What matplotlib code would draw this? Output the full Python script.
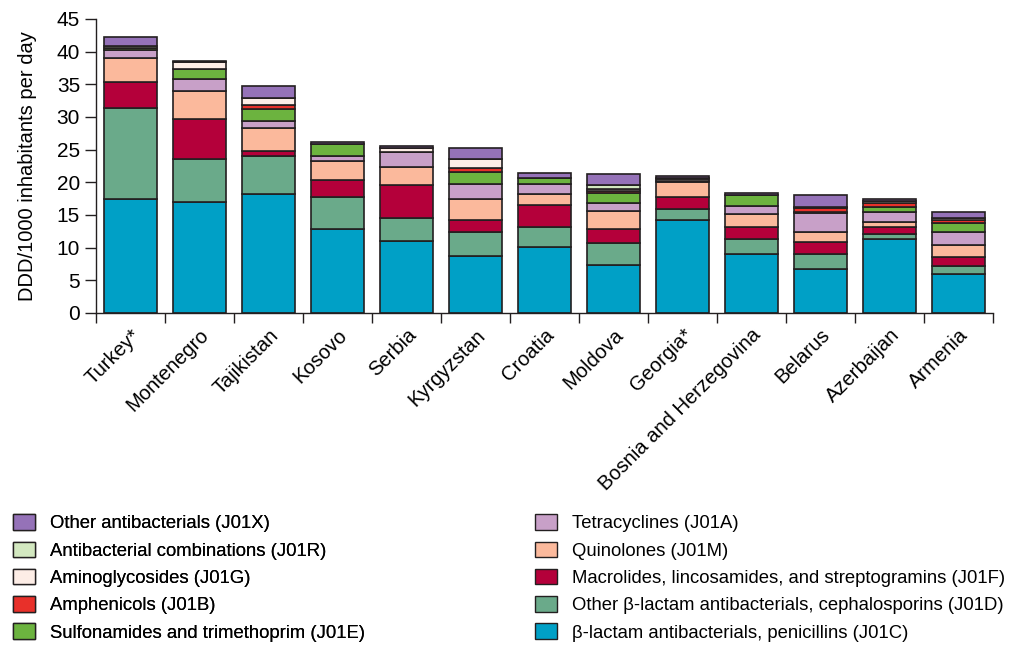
import numpy as np
import matplotlib
matplotlib.use('Agg')
import matplotlib.pyplot as plt
from matplotlib.patches import Patch

plt.rcParams['font.family'] = ['Liberation Sans', 'DejaVu Sans']

countries = ['Turkey*', 'Montenegro', 'Tajikistan', 'Kosovo', 'Serbia', 'Kyrgyzstan',
             'Croatia', 'Moldova', 'Georgia*', 'Bosnia and Herzegovina', 'Belarus',
             'Azerbaijan', 'Armenia']

# values, bottom of stack first
J01C = [17.4, 17.0, 18.2, 12.8, 11.0, 8.7, 10.1, 7.4, 14.2, 9.1, 6.8, 11.3, 5.9]
J01D = [14.0, 6.5, 5.8, 4.9, 3.6, 3.7, 3.1, 3.3, 1.7, 2.3, 2.3, 0.8, 1.3]
J01F = [4.0, 6.2, 0.8, 2.7, 5.0, 1.9, 3.3, 2.2, 1.9, 1.7, 1.7, 1.1, 1.3]
J01M = [3.6, 4.3, 3.5, 2.9, 2.7, 3.2, 1.7, 2.7, 2.2, 2.1, 1.6, 0.8, 1.9]
J01A = [1.3, 1.8, 1.1, 0.7, 2.3, 2.3, 1.5, 1.3, 0.2, 1.2, 2.9, 1.4, 2.0]
J01E = [0.3, 1.6, 1.9, 1.8, 0.0, 1.8, 0.9, 1.5, 0.0, 1.6, 0.2, 0.8, 1.4]
J01B = [0.0, 0.0, 0.6, 0.0, 0.0, 0.6, 0.0, 0.3, 0.0, 0.0, 0.5, 0.6, 0.5]
J01G = [0.0, 1.0, 1.0, 0.0, 0.6, 1.4, 0.0, 0.3, 0.3, 0.0, 0.2, 0.3, 0.2]
J01R = [0.2, 0.0, 0.0, 0.0, 0.0, 0.0, 0.0, 0.6, 0.2, 0.0, 0.0, 0.0, 0.0]
J01X = [1.4, 0.2, 1.9, 0.4, 0.4, 1.6, 0.8, 1.6, 0.3, 0.4, 1.8, 0.3, 0.9]

labels = ['\u03b2-lactam antibacterials, penicillins (J01C)',
          'Other \u03b2-lactam antibacterials, cephalosporins (J01D)',
          'Macrolides, lincosamides, and streptogramins (J01F)',
          'Quinolones (J01M)',
          'Tetracyclines (J01A)',
          'Sulfonamides and trimethoprim (J01E)',
          'Amphenicols (J01B)',
          'Aminoglycosides (J01G)',
          'Antibacterial combinations (J01R)',
          'Other antibacterials (J01X)']
series = [J01C, J01D, J01F, J01M, J01A, J01E, J01B, J01G, J01R, J01X]
colors = ['#00A0C6', '#6AAA8A', '#B4003A', '#FBB99C', '#C8A0C8',
          '#6CB33F', '#E8302A', '#FDEDE6', '#D3E8C0', '#9572B8']
edge = '#231F20'

fig = plt.figure(figsize=(10.1, 6.49), dpi=100)
ax = fig.add_axes([96/1010, 1-313/649, 897/1010, 294/649])

x = np.arange(len(countries))
bottom = np.zeros(len(countries))
for vals, c in zip(series, colors):
    v = np.array(vals)
    ax.bar(x, v, bottom=bottom, width=0.77, color=c, edgecolor=edge, linewidth=1.2)
    bottom += v

ax.set_xlim(-0.5, len(countries) - 0.5)
ax.set_ylim(0, 45)
ax.set_yticks(np.arange(0, 46, 5))
ax.set_xticks(x)
ax.set_xticklabels(countries, rotation=45, ha='right', rotation_mode='anchor', fontsize=14.5)
ax.set_xticks(np.arange(-0.5, len(countries), 1), minor=True)
ax.tick_params(axis='x', which='major', length=0, pad=9)
ax.tick_params(axis='x', which='minor', length=7, width=1, color=edge)
ax.tick_params(axis='y', length=8, width=1, color=edge, labelsize=15)
ax.set_ylabel('DDD/1000 inhabitants per day', fontsize=14.5, labelpad=14)
for s in ['top', 'right']:
    ax.spines[s].set_visible(False)
for s in ['left', 'bottom']:
    ax.spines[s].set_color(edge)
    ax.spines[s].set_linewidth(1)

handles = [Patch(facecolor=c, edgecolor=edge, linewidth=1) for c in colors]
rev = list(range(len(series)))[::-1]
left = rev[:5]
right = rev[5:]
kw = dict(loc='upper left', frameon=False, fontsize=13.3, handlelength=1.15,
          handleheight=0.9, labelspacing=0.5, handletextpad=0.85, borderaxespad=0)
leg1 = fig.legend([handles[i] for i in left], [labels[i] for i in left],
                  bbox_to_anchor=(0.006, 1-507/649), **kw)
fig.add_artist(leg1)
fig.legend([handles[i] for i in right], [labels[i] for i in right],
           bbox_to_anchor=(528/1010, 1-507/649), **kw)

fig.savefig('out.png', dpi=100)
